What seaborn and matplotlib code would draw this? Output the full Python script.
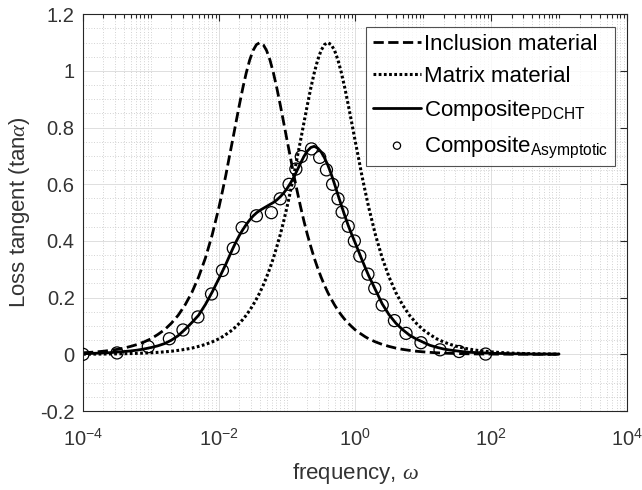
"""Loss tangent of inclusion, matrix and composite vs frequency."""

import numpy as np
import matplotlib
matplotlib.use('Agg')
import matplotlib.pyplot as plt
import matplotlib.ticker as mtick
import seaborn as sns

sns.set_style('white')
plt.rcParams['font.family'] = ['Liberation Sans', 'DejaVu Sans']
plt.rcParams['mathtext.fontset'] = 'custom'
plt.rcParams['mathtext.rm'] = 'Liberation Sans'
plt.rcParams['mathtext.it'] = 'Liberation Serif:italic'
plt.rcParams['axes.unicode_minus'] = False

# Frequency grid of the curves (log10 of omega): 0.1 decade steps, 0.05 around the peaks
log_w = np.round(np.concatenate([np.arange(-4.0, -2.05, 0.1),
                                 np.arange(-2.0, 0.21, 0.05),
                                 np.arange(0.3, 3.05, 0.1)]), 2)

# Loss tangent
inclusion = [0.0055, 0.0070, 0.0088, 0.011, 0.014, 0.0175, 0.022, 0.028, 0.035, 0.044,
             0.055, 0.070, 0.087, 0.110, 0.138, 0.174, 0.218, 0.273, 0.340, 0.422,
             # -2.0 .. 0.2
             0.520, 0.575, 0.632, 0.695, 0.756, 0.819, 0.881, 0.940, 0.993, 1.038,
             1.072, 1.093, 1.100, 1.093, 1.072, 1.038, 0.993, 0.940, 0.881, 0.819,
             0.756, 0.695, 0.632, 0.575, 0.520, 0.469, 0.422, 0.380, 0.340, 0.305,
             0.273, 0.244, 0.218, 0.195, 0.174, 0.155, 0.138, 0.123, 0.110, 0.098,
             0.087, 0.078, 0.070, 0.062, 0.055,
             # 0.3 .. 3.0
             0.044, 0.035, 0.028, 0.022, 0.0175, 0.014, 0.011, 0.0088, 0.0070, 0.0055,
             0.0044, 0.0035, 0.0028, 0.0022, 0.0017, 0.0014, 0.0011, 0.0009, 0.0007, 0.0006,
             0.0004, 0.0004, 0.0003, 0.0002, 0.0002, 0.0001, 0.0001, 0.0001]
matrix = [0.0006, 0.0007, 0.0009, 0.0011, 0.0014, 0.0017, 0.0022, 0.0028, 0.0035, 0.0044,
          0.0055, 0.0070, 0.0088, 0.011, 0.014, 0.0175, 0.022, 0.028, 0.035, 0.044,
          # -2.0 .. 0.2
          0.055, 0.062, 0.070, 0.078, 0.087, 0.098, 0.110, 0.123, 0.138, 0.155,
          0.174, 0.195, 0.218, 0.244, 0.273, 0.305, 0.340, 0.380, 0.422, 0.469,
          0.520, 0.575, 0.632, 0.695, 0.756, 0.819, 0.881, 0.940, 0.993, 1.038,
          1.072, 1.093, 1.100, 1.093, 1.072, 1.038, 0.993, 0.940, 0.881, 0.819,
          0.756, 0.695, 0.632, 0.575, 0.520,
          # 0.3 .. 3.0
          0.422, 0.340, 0.273, 0.218, 0.174, 0.138, 0.110, 0.087, 0.070, 0.055,
          0.044, 0.035, 0.028, 0.022, 0.0175, 0.014, 0.011, 0.0088, 0.0070, 0.0055,
          0.0044, 0.0035, 0.0028, 0.0022, 0.0017, 0.0014, 0.0011, 0.0009]
composite = [0.002, 0.003, 0.004, 0.005, 0.006, 0.008, 0.010, 0.012, 0.015, 0.019,
             0.024, 0.030, 0.038, 0.050, 0.066, 0.088, 0.112, 0.138, 0.176, 0.220,
             # -2.0 .. 0.2
             0.268, 0.293, 0.318, 0.345, 0.372, 0.397, 0.420, 0.440, 0.458, 0.474,
             0.488, 0.499, 0.508, 0.515, 0.522, 0.529, 0.536, 0.545, 0.556, 0.569,
             0.585, 0.604, 0.625, 0.650, 0.675, 0.699, 0.718, 0.730, 0.734, 0.728,
             0.715, 0.694, 0.668, 0.636, 0.600, 0.562, 0.525, 0.489, 0.455, 0.424,
             0.395, 0.365, 0.335, 0.306, 0.278,
             # 0.3 .. 3.0
             0.228, 0.178, 0.140, 0.110, 0.087, 0.068, 0.054, 0.043,
             0.032, 0.025, 0.019, 0.015, 0.012, 0.009, 0.007, 0.006, 0.005,
             0.004, 0.003, 0.003, 0.002, 0.002, 0.002, 0.001, 0.001, 0.001, 0.001, 0.001]

# Asymptotic composite points (log10 omega, loss tangent)
asym_logw = [-4.0, -3.5, -3.04, -2.73, -2.53, -2.31, -2.11, -1.95, -1.79, -1.66,
             -1.45, -1.23, -1.10, -0.97, -0.87, -0.79, -0.64, -0.52, -0.42, -0.33,
             -0.25, -0.19, -0.10, -0.01, 0.07, 0.19, 0.29, 0.40, 0.58, 0.75,
             0.97, 1.25, 1.53, 1.92]
asym_val = [0.0, 0.005, 0.027, 0.055, 0.086, 0.132, 0.213, 0.296, 0.374, 0.447,
            0.489, 0.50, 0.549, 0.60, 0.654, 0.698, 0.725, 0.695, 0.651, 0.60,
            0.549, 0.502, 0.452, 0.40, 0.347, 0.283, 0.233, 0.174, 0.119, 0.074,
            0.041, 0.016, 0.010, 0.001]

x_major = [1e-4, 1e-2, 1e0, 1e2, 1e4]
y_ticks = [-0.2, 0, 0.2, 0.4, 0.6, 0.8, 1, 1.2]

txt = '#333333'
w = 10.0 ** log_w
line_kw = dict(color='k', solid_joinstyle='round', dash_joinstyle='round')

fig = plt.figure(figsize=(6.42, 4.90), dpi=100)
ax = fig.add_axes([0.1293, 0.1612, 0.8474, 0.8096])

# Curves and markers
sns.lineplot(x=w, y=inclusion, ax=ax, lw=2.0, linestyle='--', label='Inclusion material', **line_kw)
sns.lineplot(x=w, y=matrix, ax=ax, lw=2.2, linestyle=(0, (0.9, 0.8)), label='Matrix material', **line_kw)
sns.lineplot(x=w, y=composite, ax=ax, lw=2.0, linestyle='-', label=r'Composite$_{\mathrm{PDCHT}}$', **line_kw)
sns.scatterplot(x=10.0 ** np.array(asym_logw), y=asym_val, ax=ax, marker='o', s=75,
                facecolor='none', edgecolor='k', linewidth=0.9, zorder=3,
                label=r'Composite$_{\mathrm{Asymptotic}}$')

# Axes formatting
ax.set_xscale('log')
ax.set_xlim(1e-4, 1e4)
ax.set_ylim(-0.2, 1.2)
ax.xaxis.set_major_locator(mtick.FixedLocator(x_major))
ax.xaxis.set_major_formatter(mtick.LogFormatterSciNotation())
ax.xaxis.set_minor_locator(mtick.LogLocator(base=10, subs=np.arange(1, 10), numticks=100))
ax.xaxis.set_minor_formatter(mtick.NullFormatter())
ax.yaxis.set_major_locator(mtick.FixedLocator(y_ticks))
ax.yaxis.set_major_formatter(mtick.FuncFormatter(lambda v, p: '%g' % round(v, 2)))
ax.yaxis.set_minor_locator(mtick.MultipleLocator(0.05))

ax.tick_params(which='both', direction='in', top=True, right=True, colors='#262626',
               labelcolor=txt, labelsize=14.5, width=0.8)
ax.tick_params(which='major', length=5)
ax.tick_params(axis='x', which='major', pad=12)
ax.tick_params(axis='y', which='major', pad=6)
ax.tick_params(axis='x', which='minor', length=3)
ax.tick_params(axis='y', which='minor', length=0)

ax.set_axisbelow(True)
ax.grid(which='major', color='#dedede', lw=0.7, ls='-')
ax.grid(which='minor', color='#c4c4c4', lw=0.6, ls=(0, (1, 2.2)))
for sp in ax.spines.values():
    sp.set_color('#262626')
    sp.set_linewidth(0.8)

ax.set_xlabel(r'frequency, $\mathit{\omega}$', fontsize=16, color=txt, labelpad=8)
ax.set_ylabel(r'Loss tangent (tan$\mathit{\alpha}$)', fontsize=16, color=txt, labelpad=6)

leg = ax.legend(loc='upper right', bbox_to_anchor=(0.977, 0.968), fontsize=16, frameon=True,
                fancybox=False, edgecolor='#262626', handlelength=2.2, handletextpad=0.1,
                labelspacing=0.5, borderpad=0.3, borderaxespad=0, markerscale=0.6)
leg.get_frame().set_linewidth(0.8)
for t in leg.get_texts():
    t.set_color('k')

fig.savefig('out.png', dpi=100)
